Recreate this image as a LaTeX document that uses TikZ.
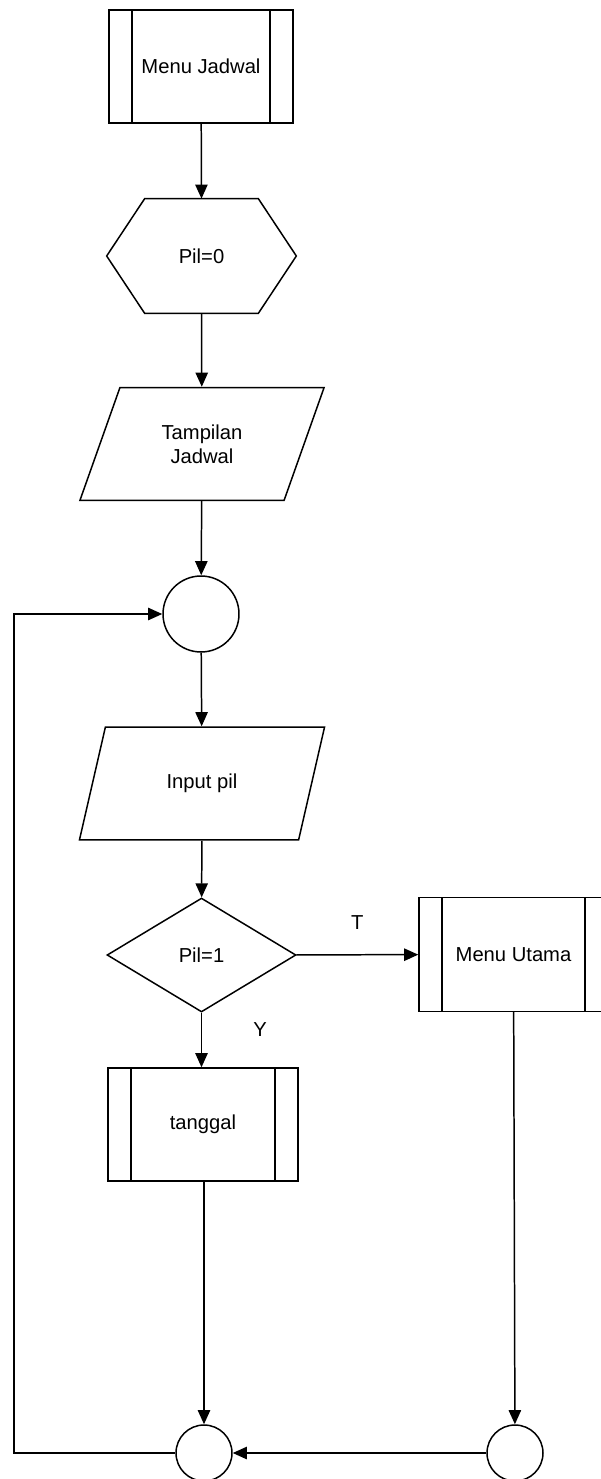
\documentclass[tikz,border=0pt]{standalone}
\usepackage{fontspec}
\setmainfont{Liberation Sans}
\usepackage{tikz}
\usetikzlibrary{arrows.meta,shapes.geometric,calc,positioning}
\tikzset{
  garis/.style={draw=black,line width=0.85pt},
  panah/.style={garis,-{Triangle[length=8pt,width=7pt]}},
  teks/.style={font=\fontsize{11.5}{13.8}\selectfont,align=center,inner sep=0pt},
  subproses/.style={teks,garis,rectangle,minimum width=3.78cm,minimum height=2.28cm,
    path picture={
      \draw[line width=0.85pt] ([xshift=0.46cm]path picture bounding box.north west) -- ([xshift=0.46cm]path picture bounding box.south west);
      \draw[line width=0.85pt] ([xshift=-0.46cm]path picture bounding box.north east) -- ([xshift=-0.46cm]path picture bounding box.south east);}},
  heksa/.style={teks,rectangle,minimum width=3.78cm,minimum height=2.28cm},
  masukan/.style={teks,garis,trapezium,trapezium left angle=63.2,trapezium right angle=116.8,
    trapezium stretches=true,minimum width=4.92cm,minimum height=2.26cm},
  keputusan/.style={teks,garis,diamond,aspect=1.66,minimum width=3.78cm,minimum height=2.28cm},
  konektor/.style={garis,circle,inner sep=0pt}
}
\begin{document}
\begin{tikzpicture}[x=0.02cm,y=-0.02cm]
\useasboundingbox (0,0) rectangle (600,1479);
% alur utama
\node[subproses,minimum width=3.68cm,minimum height=2.26cm] (mjadwal) at (201,66.5) {Menu Jadwal};
\node[heksa] (pil0) at (201.5,256) {Pil=0};
\draw[garis] (pil0.west) -- ([xshift=0.76cm]pil0.north west) -- ([xshift=-0.76cm]pil0.north east)
  -- (pil0.east) -- ([xshift=-0.76cm]pil0.south east) -- ([xshift=0.76cm]pil0.south west) -- cycle;
\node[masukan] (tampil) at (202,444) {Tampilan\\Jadwal};
\node[konektor,minimum size=1.52cm] (k1) at (201,614) {};
\node[masukan] (input) at (202,783.5) {Input pil};
\node[keputusan] (pil1) at (201.5,955) {Pil=1};
\node[subproses] (mutama) at (513.5,954.5) {Menu Utama};
\node[subproses,minimum width=3.8cm,minimum height=2.26cm] (tgl) at (203,1124.5) {tanggal};
\node[konektor,minimum size=1.12cm] (k2) at (204,1453) {};
\node[konektor,minimum size=1.12cm] (k3) at (515,1453) {};
\coordinate (kiri) at (14,1453);
% penghubung
\draw[panah] (mjadwal) -- (pil0.north);
\draw[panah] (pil0.south) -- (tampil);
\draw[panah] (tampil) -- (k1);
\draw[panah] (k1) -- (input);
\draw[panah] (input) -- (pil1);
\draw[panah] (pil1) -- node[teks,pos=0.5,above=14pt] {T} (mutama);
\draw[panah] (pil1.south) -- (tgl.north -| pil1.south);
\node[teks] at (260,1030) {Y};
\draw[panah] (tgl.south -| k2) -- (k2);
\draw[panah] (mutama) -- (k3);
\draw[panah] (k3) -- (k2);
\draw[panah] (k2) -- (kiri) |- (k1);
\end{tikzpicture}
\end{document}
